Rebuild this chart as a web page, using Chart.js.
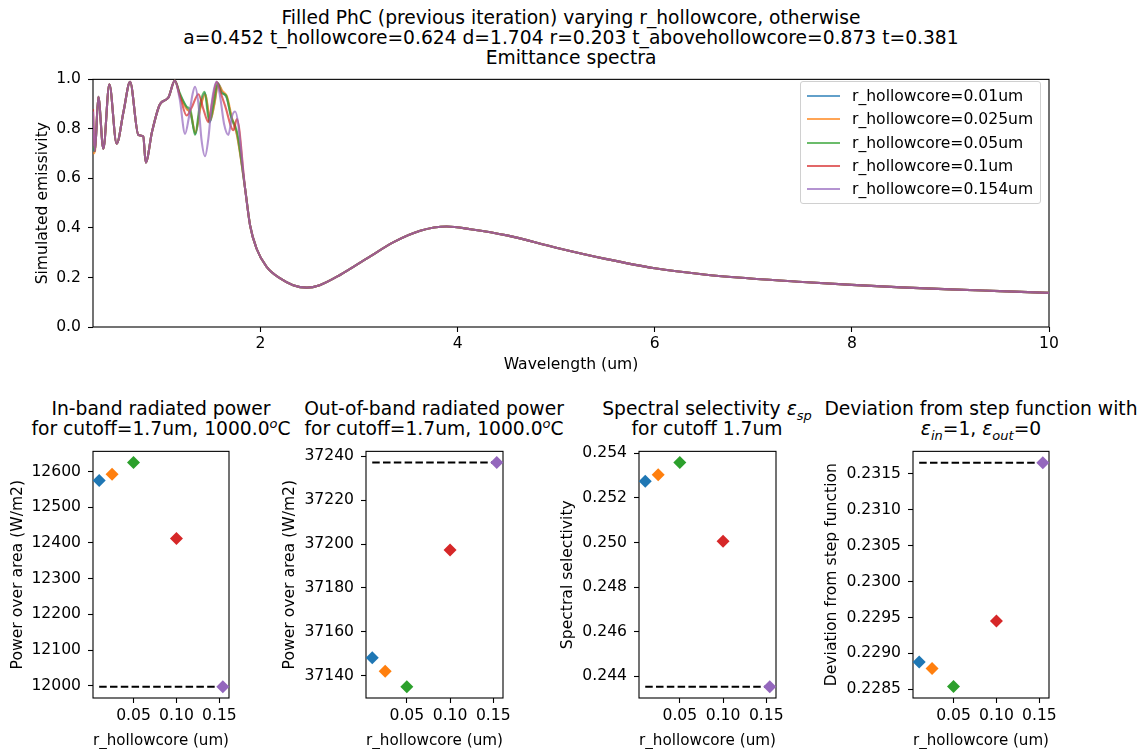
<!DOCTYPE html>
<html>
<head>
<meta charset="utf-8">
<script src="https://cdn.jsdelivr.net/npm/chart.js@4.4.0/dist/chart.umd.min.js"></script>
<style>
  body { margin: 0; width: 1146px; height: 749px; overflow: hidden; background: #fff; position: relative;
         font-family: "DejaVu Sans", sans-serif; color: #000; }
  canvas { position: absolute; }
  .title { position: absolute; text-align: center; font-size: 18.7px; line-height: 20px; white-space: nowrap; }
  .title i { font-style: italic; }
  .title sub, .title sup { font-size: 13px; line-height: 0; }
  .legend { position: absolute; left: 800px; top: 81px; width: 239px; height: 121px; border: 1px solid #d0d0d0;
            border-radius: 3px; background: rgba(255,255,255,0.8); font-size: 15.6px; }
  .legend div { position: absolute; left: 0; white-space: nowrap; }
  .legend span.swatch { position: absolute; left: 6px; top: -1px; width: 33px; height: 2px; }
  .legend span.txt { position: absolute; left: 51px; top: -10px; line-height: 20px; }
</style>
</head>
<body>

<div class="title" style="left:71px; top:8px; width:1000px;">
  Filled PhC (previous iteration) varying r_hollowcore, otherwise<br>
  a=0.452 t_hollowcore=0.624 d=1.704 r=0.203 t_abovehollowcore=0.873 t=0.381<br>
  Emittance spectra
</div>
<div class="title" style="left:-39px; top:399px; width:400px;">In-band radiated power<br>for cutoff=1.7um, 1000.0<sup><i>o</i></sup>C</div>
<div class="title" style="left:234px; top:399px; width:400px;">Out-of-band radiated power<br>for cutoff=1.7um, 1000.0<sup><i>o</i></sup>C</div>
<div class="title" style="left:507px; top:399px; width:400px;">Spectral selectivity <i>ε</i><sub><i>sp</i></sub><br>for cutoff 1.7um</div>
<div class="title" style="left:781px; top:399px; width:400px;">Deviation from step function with<br><i>ε</i><sub><i>in</i></sub>=1, <i>ε</i><sub><i>out</i></sub>=0</div>

<canvas id="spectra" width="1069" height="314" style="left:0; top:63px;"></canvas>
<div class="legend" id="legend"></div>

<canvas id="inBand" width="246" height="317" style="left:3px; top:435px;"></canvas>
<canvas id="outBand" width="247" height="317" style="left:276px; top:435px;"></canvas>
<canvas id="selectivity" width="247" height="317" style="left:549px; top:435px;"></canvas>
<canvas id="deviation" width="246" height="317" style="left:823px; top:435px;"></canvas>

<script>
// series
const seriesLabels = ["r_hollowcore=0.01um", "r_hollowcore=0.025um", "r_hollowcore=0.05um", "r_hollowcore=0.1um", "r_hollowcore=0.154um"];
const seriesColors = ["31,119,180", "255,127,14", "44,160,44", "214,39,40", "148,103,189"];

// emissivity at 0.3um, differs per series
const startEmissivity = [0.72, 0.70, 0.73, 0.88, 0.87];

// shared short-wavelength part (0.32 - 1.13 um)
const wlCommon = [0.32, 0.354, 0.405, 0.466, 0.54, 0.61, 0.676, 0.76, 0.81, 0.835, 0.90, 0.98, 1.064, 1.13];
const emCommon = [0.71, 0.93, 0.72, 0.98, 0.74, 0.87, 0.99, 0.776, 0.769, 0.664, 0.79, 0.90, 0.926, 0.995];

// where the series split apart (1.13 - 1.8 um)
const wlMid = [
  [1.18, 1.25, 1.29, 1.34, 1.39, 1.437, 1.487, 1.53, 1.57, 1.61, 1.657, 1.708, 1.76],
  [1.18, 1.25, 1.29, 1.34, 1.39, 1.44, 1.49, 1.53, 1.57, 1.61, 1.66, 1.71, 1.76],
  [1.18, 1.25, 1.29, 1.335, 1.385, 1.432, 1.48, 1.525, 1.565, 1.605, 1.65, 1.70, 1.76],
  [1.19, 1.25, 1.30, 1.37, 1.42, 1.47, 1.51, 1.555, 1.60, 1.64, 1.725, 1.76],
  [1.18, 1.234, 1.27, 1.31, 1.335, 1.37, 1.40, 1.437, 1.47, 1.51, 1.555, 1.59, 1.63, 1.674, 1.71, 1.742]
];
const emMid = [
  [0.94, 0.885, 0.86, 0.78, 0.89, 0.945, 0.83, 0.90, 0.983, 0.95, 0.925, 0.84, 0.78],
  [0.935, 0.88, 0.865, 0.785, 0.885, 0.94, 0.835, 0.895, 0.98, 0.955, 0.93, 0.845, 0.775],
  [0.945, 0.89, 0.875, 0.776, 0.90, 0.95, 0.825, 0.905, 0.985, 0.945, 0.935, 0.85, 0.79],
  [0.92, 0.854, 0.885, 0.94, 0.88, 0.828, 0.91, 0.99, 0.94, 0.894, 0.795, 0.84],
  [0.92, 0.78, 0.84, 0.94, 0.97, 0.90, 0.76, 0.69, 0.76, 0.92, 0.99, 0.93, 0.82, 0.776, 0.85, 0.87]
];

// shared long-wavelength tail (1.84 - 10 um)
const wlTail = [1.843, 1.894, 1.96, 2.06, 2.2, 2.33, 2.47, 2.6, 2.81, 3.08, 3.35, 3.62, 3.89, 4.13, 4.5, 5.0, 5.5, 6.0, 6.5, 7.0, 7.5, 8.0, 8.5, 9.0, 9.5, 10.0];
const emTail = [0.56, 0.41, 0.316, 0.244, 0.196, 0.169, 0.159, 0.169, 0.211, 0.277, 0.343, 0.389, 0.406, 0.395, 0.37, 0.32, 0.275, 0.237, 0.212, 0.195, 0.182, 0.170, 0.160, 0.152, 0.145, 0.138];

// bottom panels
const radii = [0.01, 0.025, 0.05, 0.1, 0.154];
const inBandPower = [12575, 12592, 12625, 12412, 11997];
const outBandPower = [37148.1, 37141.9, 37134.8, 37197.3, 37237.2];
const selectivity = [0.25275, 0.25304, 0.25359, 0.25006, 0.24353];
const stepDeviation = [0.22888, 0.22879, 0.22854, 0.22945, 0.23165];

// tick values
const radiusTicks = [0.05, 0.10, 0.15];
const inBandTicks = [12000, 12100, 12200, 12300, 12400, 12500, 12600];
const outBandTicks = [37140, 37160, 37180, 37200, 37220, 37240];
const selectivityTicks = [0.244, 0.246, 0.248, 0.250, 0.252, 0.254];
const deviationTicks = [0.2285, 0.2290, 0.2295, 0.2300, 0.2305, 0.2310, 0.2315];

Chart.defaults.font.family = "'DejaVu Sans', sans-serif";
Chart.defaults.font.size = 15.6;
Chart.defaults.color = "#000";
Chart.defaults.animation = false;

// black box around the axes
const framePlugin = {
  id: "frame",
  beforeDatasetsDraw(chart) {
    const { ctx, chartArea: a } = chart;
    ctx.save();
    ctx.strokeStyle = "#000";
    ctx.lineWidth = 1.1;
    ctx.strokeRect(a.left, a.top, a.right - a.left, a.bottom - a.top);
    ctx.restore();
  }
};

const tickGrid = { drawOnChartArea: false, tickLength: 5, tickColor: "#000", tickWidth: 1.1 };

function zip(xs, ys) {
  return xs.map((x, i) => ({ x: x, y: ys[i] }));
}

function fixedTicks(values) {
  return s => { s.ticks = values.map(v => ({ value: v })); };
}

// top spectra chart
const spectraSets = seriesLabels.map((label, i) => {
  const pts = [{ x: 0.3, y: startEmissivity[i] }]
    .concat(zip(wlCommon, emCommon), zip(wlMid[i], emMid[i]), zip(wlTail, emTail));
  return {
    label: label,
    data: pts,
    borderColor: `rgba(${seriesColors[i]},0.7)`,
    borderWidth: 2.1,
    pointRadius: 0,
    cubicInterpolationMode: "monotone",
    order: seriesLabels.length - i
  };
});

new Chart(document.getElementById("spectra"), {
  type: "line",
  data: { datasets: spectraSets },
  options: {
    responsive: false,
    devicePixelRatio: 1,
    layout: { padding: { top: 10, right: 20, bottom: 0, left: 0 } },
    plugins: { legend: { display: false }, tooltip: { enabled: false } },
    scales: {
      x: {
        type: "linear", min: 0.3, max: 10,
        ticks: { stepSize: 2, includeBounds: false, padding: 2.6, maxRotation: 0, autoSkip: false, callback: v => String(v) },
        grid: tickGrid, border: { display: false },
        title: { display: true, text: "Wavelength (um)", padding: { top: 0, bottom: 2.6 } },
        afterFit: s => { s.height = 50; }
      },
      y: {
        min: 0, max: 1,
        ticks: { stepSize: 0.2, padding: 7, callback: v => v.toFixed(1) },
        grid: tickGrid, border: { display: false },
        title: { display: true, text: "Simulated emissivity", padding: { top: 33.1, bottom: 0 } },
        afterFit: s => { s.width = 93; }
      }
    }
  },
  plugins: [framePlugin]
});

// html legend
const legend = document.getElementById("legend");
seriesLabels.forEach((label, i) => {
  legend.innerHTML += `<div style="top:${14 + i * 23.3}px"><span class="swatch" style="background:rgba(${seriesColors[i]},0.7)"></span><span class="txt">${label}</span></div>`;
});

// small scatter panels
function makePanel(id, values, yMin, yMax, yTicks, digits, yTitle, titlePad) {
  const ref = values[values.length - 1];
  new Chart(document.getElementById(id), {
    type: "scatter",
    data: {
      datasets: [
        {
          data: zip(radii, values),
          pointStyle: "rectRot",
          pointRadius: 6.5,
          pointHoverRadius: 6.5,
          pointBorderWidth: 0,
          pointBackgroundColor: seriesColors.map(c => `rgb(${c})`),
          clip: false
        },
        {
          type: "line",
          data: [{ x: radii[0], y: ref }, { x: radii[radii.length - 1], y: ref }],
          borderColor: "#000",
          borderWidth: 2,
          borderDash: [7.5, 3.3],
          pointRadius: 0
        }
      ]
    },
    options: {
      responsive: false,
      devicePixelRatio: 1,
      layout: { padding: { top: 10, right: 20, bottom: 0, left: 0 } },
      plugins: { legend: { display: false }, tooltip: { enabled: false } },
      scales: {
        x: {
          type: "linear", min: 0.0028, max: 0.1612,
          afterBuildTicks: fixedTicks(radiusTicks),
          ticks: { padding: 3.6, maxRotation: 0, autoSkip: false, callback: v => v.toFixed(2) },
          grid: tickGrid, border: { display: false },
          title: { display: true, text: "r_hollowcore (um)", padding: { top: 0, bottom: 1.6 } },
          afterFit: s => { s.height = 54; }
        },
        y: {
          min: yMin, max: yMax,
          afterBuildTicks: fixedTicks(yTicks),
          ticks: { padding: 7, callback: v => v.toFixed(digits) },
          grid: tickGrid, border: { display: false },
          title: { display: true, text: yTitle, padding: { top: titlePad, bottom: 0 } },
          afterFit: s => { s.width = 90; }
        }
      }
    },
    plugins: [framePlugin]
  });
}

makePanel("inBand", inBandPower, 11965.6, 12656.4, inBandTicks, 0, "Power over area (W/m2)", 5.1);
makePanel("outBand", outBandPower, 37129.7, 37242.3, outBandTicks, 0, "Power over area (W/m2)", 4.6);
makePanel("selectivity", selectivity, 0.24303, 0.25409, selectivityTicks, 3, "Spectral selectivity", 9.6);
makePanel("deviation", stepDeviation, 0.22838, 0.23181, deviationTicks, 4, "Deviation from step function", 0);
</script>
</body>
</html>
